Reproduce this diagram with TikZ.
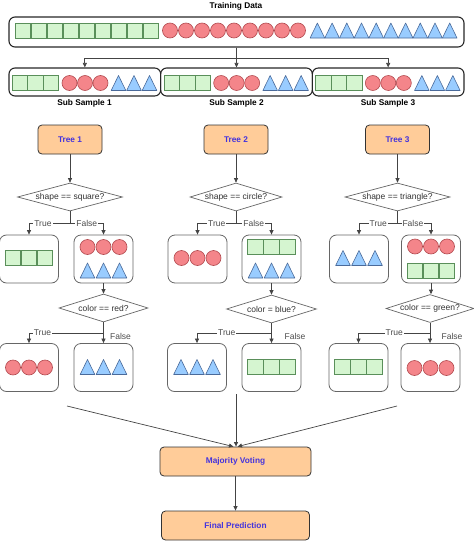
\documentclass[tikz,border=0pt]{standalone}
\usepackage{fontspec}
\setmainfont{Liberation Sans}
\usetikzlibrary{arrows.meta,shapes.geometric}
\definecolor{sqfill}{HTML}{D5F5D0}
\definecolor{sqline}{HTML}{5A8F5A}
\definecolor{cifill}{HTML}{F4858A}
\definecolor{ciline}{HTML}{B24A4F}
\definecolor{trfill}{HTML}{99CCFF}
\definecolor{trline}{HTML}{4A6A9A}
\definecolor{orfill}{HTML}{FFCC99}
\definecolor{ortext}{HTML}{4433DD}
\definecolor{linegray}{HTML}{444444}
\newcommand\shrow[5]{\foreach \k in {0,...,#4}{\pic at ({#2+#5*\k},#3) {#1};}}
\newcommand\three[3]{\shrow{#1}{#2-16}{#3}{2}{16}}
\begin{document}
\begin{tikzpicture}[x=1pt,y=-1pt,
  every node/.style={font=\fontsize{8.5pt}{10pt}\selectfont},
  boldtxt/.style={font=\bfseries\fontsize{8.3pt}{10pt}\selectfont},
  bigbox/.style={draw=black!85, line width=1.1pt, rounded corners=6pt, minimum height=30pt, inner sep=0pt},
  subbox/.style={draw=black!85, line width=1.1pt, rounded corners=6pt, minimum width=151.67pt, minimum height=28pt, inner sep=0pt},
  treebox/.style={draw=black!80, fill=orfill, rounded corners=4pt, minimum width=64pt, minimum height=29pt, font=\bfseries\fontsize{8.3pt}{10pt}\selectfont, text=ortext, line width=0.8pt},
  leaf/.style={draw=black!60, rounded corners=7pt, minimum width=59pt, minimum height=48pt, line width=0.8pt, inner sep=0pt},
  dia/.style={diamond, draw=black!60, fill=white, inner sep=0pt, minimum height=28pt, line width=0.7pt, label={[text=black!80]center:#1}},
  conn/.style={draw=linegray, line width=0.7pt, -{Triangle[length=4.5pt,width=4pt]}},
  lbl/.style={fill=white, inner sep=1pt, text=black!70},
  flbl/.style={text=black!70, inner sep=0pt},
  sq/.pic={\draw[fill=sqfill, draw=sqline, line width=0.6pt] (-7.75,-7.5) rectangle (7.75,7.5);},
  ci/.pic={\draw[fill=cifill, draw=ciline, line width=0.6pt] (0,0) circle[radius=7.5pt];},
  tr/.pic={\draw[fill=trfill, draw=trline, line width=0.6pt, line join=round] (-7.3,7.5) -- (0,-7.5) -- (7.3,7.5) -- cycle;}
]
\useasboundingbox (0,0) rectangle (474,541);

% training data
\node[boldtxt] (ttl) at (236,6) {Training Data};
\node[bigbox, minimum width=455pt] (train) at (236.5,32) {};
\shrow{sq}{23}{30.5}{8}{16}
\shrow{ci}{170}{30.5}{8}{16}
\shrow{tr}{317.4}{30.5}{9}{14.7}

% sub samples
\node[subbox] (s1) at (84.83,82) {};
\node[subbox] (s2) at (236.5,82) {};
\node[subbox] (s3) at (388.17,82) {};
\foreach \o in {0,151.67,303.33}{
  \shrow{sq}{20+\o}{83}{2}{15.5}
  \shrow{ci}{69.5+\o}{83}{2}{15.5}
  \shrow{tr}{118.5+\o}{83}{2}{15.5}
}
\node[boldtxt] (s1l) at (84.5,103) {Sub Sample 1};
\node[boldtxt] (s2l) at (236.5,103) {Sub Sample 2};
\node[boldtxt] (s3l) at (388,103) {Sub Sample 3};

\draw[conn] (train.south) -- (s2.north);
\draw[conn] (train.south) -- ++(0,11) -| (s1.north);
\draw[conn] (train.south) -- ++(0,11) -| (s3.north);

% trees
\node[treebox] (t1) at (70,139.5) {Tree 1};
\node[treebox] (t2) at (236,139.5) {Tree 2};
\node[treebox] (t3) at (397.5,139.5) {Tree 3};

\node[dia={shape == square?}, minimum width=105pt] (d1) at (70,197) {};
\node[dia={shape == circle?}, minimum width=92pt] (d2) at (236,197) {};
\node[dia={shape == triangle?}, minimum width=105pt] (d3) at (397.5,197) {};

\draw[conn] (t1) -- (d1);
\draw[conn] (t2) -- (d2);
\draw[conn] (t3) -- (d3);

% level 1 leaves
\node[leaf] (l1a) at (29,259) {};
\node[leaf] (l1b) at (103.5,259) {};
\node[leaf] (l2a) at (197.5,259) {};
\node[leaf] (l2b) at (271.5,259) {};
\node[leaf] (l3a) at (359,259) {};
\node[leaf] (l3b) at (431,259) {};

\three{sq}{29}{258}
\three{ci}{103.5}{247}
\three{tr}{103.5}{270.5}
\three{ci}{197.5}{258}
\three{sq}{271.5}{246.5}
\three{tr}{271.5}{270.5}
\three{tr}{359}{258}
\three{ci}{431}{246.5}
\three{sq}{431}{270.5}

\draw[conn] (d1.south) -- ++(0,12) -| (l1a.north) node[pos=0.33,lbl]{True};
\draw[conn] (d1.south) -- ++(0,12) -| (l1b.north) node[pos=0.25,lbl]{False};
\draw[conn] (d2.south) -- ++(0,12) -| (l2a.north) node[pos=0.25,lbl]{True};
\draw[conn] (d2.south) -- ++(0,12) -| (l2b.north) node[pos=0.25,lbl]{False};
\draw[conn] (d3.south) -- ++(0,12) -| (l3a.north) node[pos=0.25,lbl]{True};
\draw[conn] (d3.south) -- ++(0,12) -| (l3b.north) node[pos=0.23,lbl]{False};

% level 2 diamonds
\node[dia={color == red?}, minimum width=89pt] (e1) at (103.5,308) {};
\node[dia={color = blue?}, minimum width=90pt] (e2) at (271.5,309) {};
\node[dia={color == green?}, minimum width=88pt] (e3) at (430,308.5) {};

\draw[conn] (l1b.south) -- (l1b.south |- e1.north);
\draw[conn] (l2b.south) -- (l2b.south |- e2.north);
\draw[conn] (l3b.south) -- (l3b.south |- e3.north);

% level 2 leaves
\node[leaf] (m1a) at (29,367.5) {};
\node[leaf] (m1b) at (103.5,367.5) {};
\node[leaf] (m2a) at (197,367.5) {};
\node[leaf] (m2b) at (271.5,367.5) {};
\node[leaf] (m3a) at (358.5,367.5) {};
\node[leaf] (m3b) at (430.5,367.5) {};

\three{ci}{29}{367.5}
\three{tr}{103.5}{367}
\three{tr}{197}{367}
\three{sq}{271.5}{366.5}
\three{sq}{358.5}{366.5}
\three{ci}{430.5}{368}

\draw[conn] (e1.south) -- (e1.south |- 0,333) -| (m1a.north) node[pos=0.41,lbl]{True};
\draw[conn] (e1.south) -- (e1.south |- m1b.north);
\draw[conn] (e2.south) -- (e2.south |- 0,333) -| (m2a.north) node[pos=0.3,lbl]{True};
\draw[conn] (e2.south) -- (e2.south |- m2b.north);
\draw[conn] (e3.south) -- (e3.south |- 0,333) -| (m3a.north) node[pos=0.25,lbl]{True};
\draw[conn] (e3.south) -- (e3.south |- m3b.north);
\node[flbl] (f1) at (120.5,336) {False};
\node[flbl] (f2) at (295,336.5) {False};
\node[flbl] (f3) at (452,336.5) {False};

% voting
\node[treebox, minimum width=151pt] (mv) at (235.5,461.5) {Majority Voting};
\node[treebox, minimum width=148pt] (fp) at (235.5,525.5) {Final Prediction};
\coordinate (c1) at (67,406);
\coordinate (c2) at (236,394);
\coordinate (c3) at (397,406);
\draw[conn] (c1) -- ([xshift=-2pt]mv.north);
\draw[conn] (c2) -- (c2 |- mv.north);
\draw[conn] (c3) -- ([xshift=2pt]mv.north);
\draw[conn] (mv) -- (fp);
\end{tikzpicture}
\end{document}
